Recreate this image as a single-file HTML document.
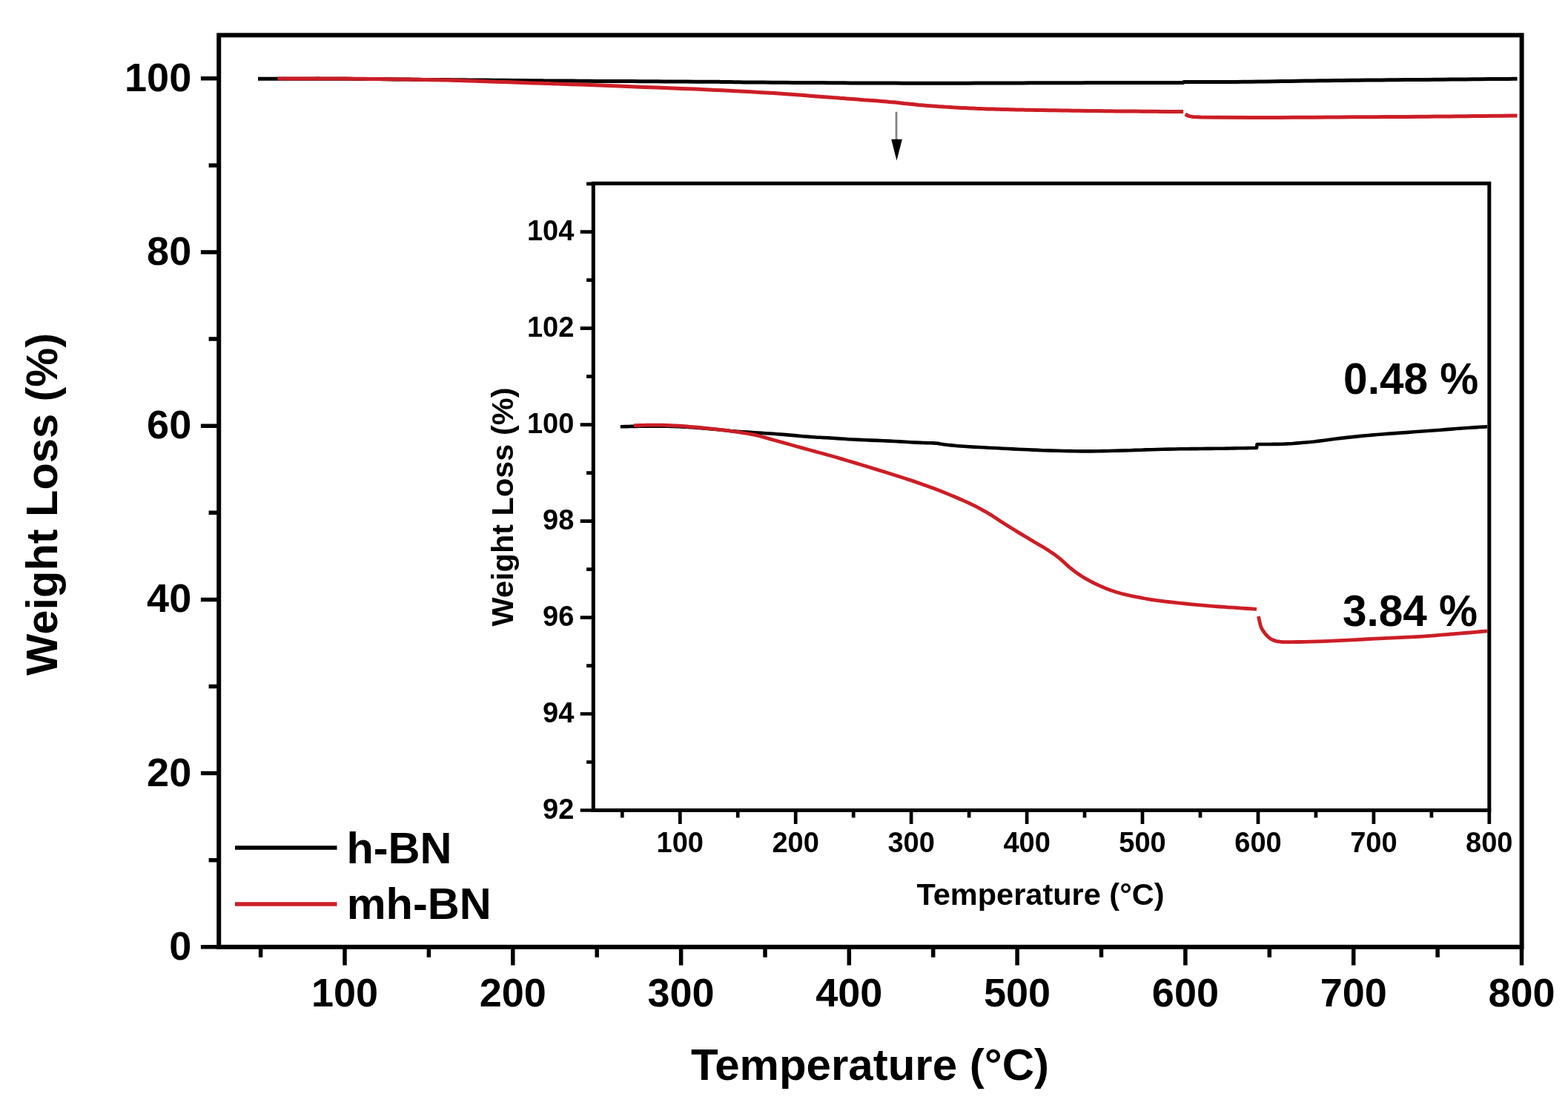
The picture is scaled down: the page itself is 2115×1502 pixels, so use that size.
<!DOCTYPE html>
<html><head><meta charset="utf-8"><title>TGA curves</title>
<style>html,body{margin:0;padding:0;background:#fff;}body{width:2115px;height:1502px;overflow:hidden;}svg{display:block;filter:blur(0.6px);}</style>
</head><body>
<svg width="2115" height="1502" viewBox="0 0 2115 1502">
<rect x="0" y="0" width="2115" height="1502" fill="#fff"/>
<defs><clipPath id="cm"><rect x="0" y="0" width="2046.5" height="1502"/></clipPath><clipPath id="ci"><rect x="0" y="0" width="2006.3" height="1502"/></clipPath></defs>
<g fill="none" stroke-linejoin="round" stroke-linecap="butt" clip-path="url(#cm)">
<path d="M348.0,106.3 L352.4,106.3 L356.8,106.2 L361.2,106.2 L365.6,106.2 L370.0,106.2 L374.5,106.2 L379.3,106.2 L384.1,106.2 L389.0,106.2 L393.8,106.2 L398.7,106.2 L403.5,106.2 L407.7,106.2 L411.8,106.2 L415.9,106.2 L420.0,106.2 L424.1,106.2 L428.3,106.1 L433.1,106.2 L438.0,106.2 L442.8,106.2 L447.7,106.2 L452.5,106.2 L457.3,106.2 L462.7,106.3 L468.0,106.3 L473.3,106.3 L478.7,106.4 L484.0,106.4 L489.3,106.5 L496.1,106.5 L502.9,106.6 L509.7,106.6 L516.5,106.7 L523.3,106.8 L530.1,106.9 L536.8,107.0 L543.6,107.0 L550.4,107.1 L557.2,107.2 L564.0,107.3 L570.8,107.4 L577.3,107.4 L583.9,107.5 L590.4,107.5 L597.0,107.6 L603.5,107.6 L610.1,107.7 L617.6,107.8 L625.1,107.8 L632.6,107.9 L640.1,107.9 L647.6,108.0 L655.1,108.1 L667.7,108.2 L680.3,108.3 L692.9,108.5 L705.6,108.6 L718.2,108.7 L730.8,108.8 L735.1,108.9 L739.5,108.9 L743.8,108.9 L748.2,108.9 L752.6,109.0 L756.9,109.0 L764.7,109.1 L772.4,109.1 L780.2,109.2 L788.0,109.3 L795.7,109.3 L803.5,109.4 L815.6,109.4 L827.7,109.5 L839.8,109.6 L852.0,109.6 L864.1,109.7 L876.2,109.8 L886.4,109.8 L896.6,109.9 L906.7,110.0 L916.9,110.0 L927.1,110.1 L937.3,110.2 L942.1,110.2 L947.0,110.2 L951.8,110.2 L956.7,110.2 L961.5,110.3 L966.4,110.3 L969.5,110.3 L972.7,110.4 L975.8,110.4 L979.0,110.5 L982.1,110.6 L985.3,110.6 L991.3,110.7 L997.4,110.8 L1003.4,110.9 L1009.5,110.9 L1015.6,111.0 L1021.6,111.1 L1031.3,111.1 L1041.0,111.2 L1050.7,111.3 L1060.4,111.3 L1070.1,111.4 L1079.8,111.4 L1089.5,111.5 L1099.2,111.6 L1108.9,111.6 L1118.6,111.7 L1128.3,111.8 L1138.0,111.8 L1147.7,111.9 L1157.4,111.9 L1167.1,112.0 L1176.7,112.0 L1186.4,112.1 L1196.1,112.1 L1207.3,112.1 L1218.4,112.2 L1229.6,112.2 L1240.7,112.2 L1251.9,112.2 L1263.0,112.2 L1273.7,112.2 L1284.4,112.2 L1295.0,112.2 L1305.7,112.2 L1316.4,112.1 L1327.0,112.1 L1337.5,112.1 L1347.9,112.0 L1358.3,112.0 L1368.7,111.9 L1379.1,111.9 L1389.6,111.8 L1401.0,111.8 L1412.3,111.8 L1423.7,111.7 L1435.1,111.7 L1446.5,111.7 L1457.9,111.7 L1467.6,111.6 L1477.3,111.6 L1487.0,111.6 L1496.7,111.6 L1506.4,111.6 L1516.1,111.6 L1523.4,111.6 L1530.6,111.6 L1537.9,111.5 L1545.2,111.5 L1552.4,111.5 L1559.7,111.5 L1565.8,111.5 L1571.8,111.5 L1577.9,111.5 L1584.0,111.5 L1590.0,111.4 L1596.1,111.4 L1596.9,110.5 L1603.5,110.5 L1610.0,110.5 L1616.6,110.5 L1623.1,110.5 L1629.7,110.5 L1636.2,110.5 L1646.5,110.5 L1656.8,110.4 L1667.0,110.4 L1677.3,110.3 L1687.6,110.2 L1697.9,110.0 L1708.3,109.9 L1718.7,109.8 L1729.1,109.6 L1739.6,109.4 L1750.0,109.2 L1760.4,109.1 L1770.6,108.9 L1780.8,108.8 L1791.0,108.7 L1801.1,108.5 L1811.3,108.4 L1821.5,108.3 L1831.9,108.2 L1842.3,108.1 L1852.8,108.0 L1863.2,107.9 L1873.6,107.8 L1884.0,107.7 L1894.5,107.6 L1904.9,107.5 L1915.3,107.4 L1925.7,107.4 L1936.1,107.3 L1946.6,107.2 L1956.7,107.1 L1966.9,107.0 L1977.1,106.9 L1987.3,106.8 L1997.5,106.7 L2007.6,106.6 L2014.4,106.5 L2021.2,106.5 L2028.0,106.4 L2034.8,106.4 L2041.6,106.3 L2048.4,106.3" stroke="#000" stroke-width="5"/>
<path d="M374.5,106.0 L379.3,106.0 L384.1,105.9 L389.0,105.9 L393.8,105.9 L398.7,105.9 L403.5,105.9 L407.7,105.9 L411.8,105.9 L415.9,105.9 L420.0,105.9 L424.1,105.9 L428.3,105.9 L433.1,105.9 L438.0,105.9 L442.8,105.9 L447.7,106.0 L452.5,106.0 L457.3,106.0 L462.7,106.1 L468.0,106.1 L473.3,106.2 L478.7,106.2 L484.0,106.3 L489.3,106.3 L496.1,106.4 L502.9,106.5 L509.7,106.6 L516.5,106.6 L523.3,106.7 L530.1,106.8 L536.8,106.9 L543.6,107.0 L550.4,107.1 L557.2,107.2 L564.0,107.3 L570.8,107.4 L577.3,107.6 L583.9,107.7 L590.4,107.8 L597.0,107.9 L603.5,108.1 L610.1,108.2 L617.6,108.4 L625.1,108.7 L632.6,108.9 L640.1,109.2 L647.6,109.5 L655.1,109.7 L667.7,110.2 L680.3,110.6 L692.9,111.0 L705.6,111.5 L718.2,111.9 L730.8,112.3 L735.1,112.5 L739.5,112.6 L743.8,112.8 L748.2,112.9 L752.6,113.1 L756.9,113.2 L769.8,113.7 L782.6,114.1 L795.5,114.6 L808.3,115.1 L821.2,115.6 L834.0,116.0 L851.2,116.7 L868.4,117.4 L885.6,118.0 L902.9,118.7 L920.1,119.4 L937.3,120.1 L946.5,120.5 L955.7,121.0 L964.9,121.4 L974.1,121.8 L983.3,122.3 L992.5,122.7 L1002.7,123.3 L1012.9,123.8 L1023.1,124.4 L1033.3,124.9 L1043.4,125.5 L1053.6,126.2 L1064.0,126.9 L1074.5,127.7 L1084.9,128.5 L1095.3,129.4 L1105.7,130.2 L1116.2,131.0 L1119.8,131.3 L1123.4,131.6 L1127.1,131.8 L1130.7,132.1 L1134.3,132.4 L1138.0,132.6 L1141.8,132.9 L1145.7,133.2 L1149.6,133.5 L1153.5,133.8 L1157.4,134.1 L1161.2,134.4 L1165.1,134.7 L1169.0,134.9 L1172.9,135.2 L1176.7,135.5 L1180.6,135.8 L1184.5,136.1 L1188.4,136.4 L1192.3,136.7 L1196.1,137.0 L1200.0,137.4 L1203.9,137.7 L1207.8,138.1 L1211.7,138.5 L1215.5,138.9 L1219.4,139.4 L1223.3,139.8 L1227.2,140.2 L1231.0,140.6 L1234.9,141.0 L1238.8,141.4 L1242.7,141.7 L1246.6,142.1 L1250.4,142.4 L1254.3,142.7 L1258.2,143.0 L1262.1,143.3 L1265.9,143.6 L1269.8,143.8 L1273.7,144.1 L1277.6,144.3 L1281.5,144.5 L1285.3,144.8 L1289.2,145.0 L1293.1,145.2 L1297.0,145.4 L1300.9,145.6 L1304.7,145.8 L1308.6,146.0 L1312.5,146.1 L1316.4,146.3 L1320.2,146.4 L1324.1,146.6 L1328.0,146.7 L1331.9,146.9 L1335.8,147.0 L1339.6,147.1 L1343.5,147.2 L1347.4,147.3 L1351.3,147.4 L1355.1,147.5 L1359.0,147.6 L1362.9,147.7 L1366.8,147.8 L1370.7,147.9 L1373.8,148.0 L1377.0,148.0 L1380.1,148.1 L1383.3,148.2 L1386.4,148.2 L1389.6,148.3 L1398.0,148.5 L1406.5,148.6 L1415.0,148.7 L1423.5,148.8 L1432.0,149.0 L1440.5,149.1 L1448.7,149.2 L1456.9,149.3 L1465.2,149.4 L1473.4,149.5 L1481.7,149.6 L1489.9,149.7 L1498.4,149.8 L1506.9,149.9 L1515.4,149.9 L1523.8,150.0 L1532.3,150.1 L1540.8,150.2 L1550.0,150.2 L1559.2,150.3 L1568.4,150.4 L1577.7,150.5 L1586.9,150.5 L1596.1,150.6" stroke="#cc1e26" stroke-width="5"/>
<path d="M1598.8,154.0 L1601.5,155.5 L1604.0,156.6 L1608.7,157.4 L1620.0,158.0 L1641.8,158.2 L1690.0,158.4 L1702.7,158.5 L1715.6,158.5 L1728.4,158.4 L1743.9,158.3 L1759.4,158.3 L1775.0,158.2 L1790.5,158.0 L1806.0,157.9 L1821.5,157.8 L1837.0,157.7 L1852.5,157.7 L1868.0,157.6 L1883.5,157.5 L1899.1,157.4 L1914.6,157.3 L1925.0,157.2 L1935.4,157.1 L1945.8,157.0 L1956.3,156.9 L1966.7,156.8 L1977.1,156.7 L1989.0,156.6 L2000.9,156.4 L2012.7,156.3 L2024.6,156.2 L2036.5,156.1 L2048.4,155.9" stroke="#cc1e26" stroke-width="5"/>
</g>
<rect x="295.2" y="47.4" width="1757.3999999999999" height="1229.3999999999999" fill="none" stroke="#000" stroke-width="6"/>
<path d="M270.9,1276.8 H295.2 M281.6,1159.7 H295.2 M270.9,1042.6 H295.2 M281.6,925.5 H295.2 M270.9,808.4 H295.2 M281.6,691.3 H295.2 M270.9,574.2 H295.2 M281.6,457.1 H295.2 M270.9,340.0 H295.2 M281.6,222.9 H295.2 M270.9,105.8 H295.2 M351.6,1276.8 V1290.8 M465.0,1276.8 V1301.4 M578.4,1276.8 V1290.8 M691.8,1276.8 V1301.4 M805.2,1276.8 V1290.8 M918.6,1276.8 V1301.4 M1032.0,1276.8 V1290.8 M1145.3,1276.8 V1301.4 M1258.7,1276.8 V1290.8 M1372.1,1276.8 V1301.4 M1485.5,1276.8 V1290.8 M1598.9,1276.8 V1301.4 M1712.3,1276.8 V1290.8 M1825.7,1276.8 V1301.4 M1939.1,1276.8 V1290.8 M2052.5,1276.8 V1301.4" stroke="#000" stroke-width="5.5" fill="none"/>
<g style="font-family:'Liberation Sans',Arial,Helvetica,sans-serif;font-weight:bold;font-size:54px" fill="#000" text-anchor="end">
<text x="258.2" y="1293.8">0</text>
<text x="258.2" y="1059.6">20</text>
<text x="258.2" y="825.4">40</text>
<text x="258.2" y="591.2">60</text>
<text x="258.2" y="357.0">80</text>
<text x="258.2" y="122.8">100</text>
</g>
<g style="font-family:'Liberation Sans',Arial,Helvetica,sans-serif;font-weight:bold;font-size:54px" fill="#000" text-anchor="middle">
<text x="465.0" y="1357.3">100</text>
<text x="691.8" y="1357.3">200</text>
<text x="918.6" y="1357.3">300</text>
<text x="1145.3" y="1357.3">400</text>
<text x="1372.1" y="1357.3">500</text>
<text x="1598.9" y="1357.3">600</text>
<text x="1825.7" y="1357.3">700</text>
<text x="2052.5" y="1357.3">800</text>
</g>
<text x="1173.5" y="1456.3" text-anchor="middle" style="font-family:'Liberation Sans',Arial,Helvetica,sans-serif;font-weight:bold;font-size:60px">Temperature (°C)</text>
<text transform="translate(77.3,679.8) rotate(-90)" text-anchor="middle" style="font-family:'Liberation Sans',Arial,Helvetica,sans-serif;font-weight:bold;font-size:59.5px">Weight Loss (%)</text>
<path d="M317,1143 H454.5" stroke="#000" stroke-width="5.5"/>
<path d="M317,1219 H454.5" stroke="#cc1e26" stroke-width="5.5"/>
<text x="467.4" y="1164" style="font-family:'Liberation Sans',Arial,Helvetica,sans-serif;font-weight:bold;font-size:59.5px">h-BN</text>
<text x="467.7" y="1239" style="font-family:'Liberation Sans',Arial,Helvetica,sans-serif;font-weight:bold;font-size:59.5px">mh-BN</text>
<path d="M1209,150.8 V190" stroke="#858585" stroke-width="2.8"/>
<path d="M1202.2,187.8 L1216.9,187.8 L1209.5,216.5 Z" fill="#000"/>
<rect x="800.3" y="247.3" width="1208.5" height="845.2" fill="#fff" stroke="none"/>
<g fill="none" stroke-linejoin="round" clip-path="url(#ci)">
<path d="M836.8,575.3 L839.8,575.2 L842.9,575.1 L845.9,575.1 L848.9,575.0 L852.0,574.9 L855.0,574.9 L858.3,574.9 L861.7,574.8 L865.0,574.8 L868.3,574.8 L871.7,574.7 L875.0,574.7 L877.8,574.7 L880.7,574.7 L883.5,574.6 L886.3,574.6 L889.2,574.6 L892.0,574.6 L895.3,574.6 L898.7,574.7 L902.0,574.8 L905.3,574.9 L908.7,575.0 L912.0,575.1 L915.7,575.2 L919.3,575.4 L923.0,575.6 L926.7,575.8 L930.3,576.1 L934.0,576.3 L938.7,576.6 L943.3,577.0 L948.0,577.4 L952.7,577.8 L957.3,578.2 L962.0,578.6 L966.7,579.0 L971.3,579.5 L976.0,580.0 L980.7,580.5 L985.3,581.0 L990.0,581.4 L994.5,581.7 L999.0,582.1 L1003.5,582.3 L1008.0,582.6 L1012.5,582.9 L1017.0,583.2 L1022.2,583.5 L1027.3,583.9 L1032.5,584.2 L1037.7,584.5 L1042.8,584.8 L1048.0,585.2 L1056.7,585.9 L1065.3,586.6 L1074.0,587.4 L1082.7,588.2 L1091.3,588.9 L1100.0,589.5 L1103.0,589.7 L1106.0,589.8 L1109.0,590.0 L1112.0,590.1 L1115.0,590.2 L1118.0,590.4 L1123.3,590.7 L1128.7,591.1 L1134.0,591.5 L1139.3,591.8 L1144.7,592.2 L1150.0,592.5 L1158.3,592.9 L1166.7,593.3 L1175.0,593.6 L1183.3,593.9 L1191.7,594.2 L1200.0,594.6 L1207.0,595.0 L1214.0,595.4 L1221.0,595.8 L1228.0,596.2 L1235.0,596.6 L1242.0,596.9 L1245.3,597.0 L1248.7,597.1 L1252.0,597.2 L1255.3,597.3 L1258.7,597.4 L1262.0,597.6 L1264.2,597.8 L1266.3,598.1 L1268.5,598.5 L1270.7,598.8 L1272.8,599.2 L1275.0,599.5 L1279.2,600.0 L1283.3,600.4 L1287.5,600.8 L1291.7,601.2 L1295.8,601.5 L1300.0,601.8 L1306.7,602.2 L1313.3,602.6 L1320.0,603.0 L1326.7,603.3 L1333.3,603.7 L1340.0,604.0 L1346.7,604.3 L1353.3,604.7 L1360.0,605.0 L1366.7,605.4 L1373.3,605.7 L1380.0,606.0 L1386.7,606.3 L1393.3,606.6 L1400.0,606.9 L1406.7,607.2 L1413.3,607.4 L1420.0,607.6 L1427.7,607.8 L1435.3,608.0 L1443.0,608.1 L1450.7,608.3 L1458.3,608.4 L1466.0,608.4 L1473.3,608.4 L1480.7,608.3 L1488.0,608.1 L1495.3,608.0 L1502.7,607.8 L1510.0,607.6 L1517.2,607.4 L1524.3,607.2 L1531.5,606.9 L1538.7,606.7 L1545.8,606.4 L1553.0,606.2 L1560.8,606.0 L1568.7,605.8 L1576.5,605.6 L1584.3,605.5 L1592.2,605.3 L1600.0,605.2 L1606.7,605.1 L1613.3,605.1 L1620.0,605.0 L1626.7,604.9 L1633.3,604.9 L1640.0,604.8 L1645.0,604.7 L1650.0,604.7 L1655.0,604.6 L1660.0,604.5 L1665.0,604.4 L1670.0,604.3 L1674.2,604.2 L1678.3,604.2 L1682.5,604.1 L1686.7,604.0 L1690.8,604.0 L1695.0,603.9 L1695.6,599.0 L1700.1,599.0 L1704.6,599.0 L1709.1,599.0 L1713.6,599.0 L1718.1,598.9 L1722.6,598.9 L1729.7,598.8 L1736.7,598.4 L1743.8,598.0 L1750.9,597.4 L1757.9,596.8 L1765.0,596.2 L1772.2,595.5 L1779.3,594.6 L1786.5,593.7 L1793.7,592.7 L1800.8,591.8 L1808.0,590.9 L1815.0,590.1 L1822.0,589.4 L1829.0,588.6 L1836.0,587.9 L1843.0,587.2 L1850.0,586.6 L1857.2,586.0 L1864.3,585.5 L1871.5,584.9 L1878.7,584.4 L1885.8,583.9 L1893.0,583.4 L1900.2,582.9 L1907.3,582.3 L1914.5,581.8 L1921.7,581.3 L1928.8,580.7 L1936.0,580.2 L1943.0,579.7 L1950.0,579.1 L1957.0,578.6 L1964.0,578.0 L1971.0,577.5 L1978.0,577.0 L1982.7,576.7 L1987.3,576.4 L1992.0,576.1 L1996.7,575.8 L2001.3,575.6 L2006.0,575.3" stroke="#000" stroke-width="4.6"/>
<path d="M855.0,573.7 L858.3,573.6 L861.7,573.5 L865.0,573.4 L868.3,573.3 L871.7,573.2 L875.0,573.2 L877.8,573.2 L880.7,573.2 L883.5,573.2 L886.3,573.2 L889.2,573.2 L892.0,573.2 L895.3,573.2 L898.7,573.3 L902.0,573.5 L905.3,573.6 L908.7,573.8 L912.0,574.0 L915.7,574.2 L919.3,574.4 L923.0,574.7 L926.7,575.0 L930.3,575.3 L934.0,575.6 L938.7,576.0 L943.3,576.4 L948.0,576.9 L952.7,577.3 L957.3,577.8 L962.0,578.3 L966.7,578.8 L971.3,579.4 L976.0,579.9 L980.7,580.5 L985.3,581.2 L990.0,581.8 L994.5,582.4 L999.0,583.1 L1003.5,583.8 L1008.0,584.5 L1012.5,585.3 L1017.0,586.2 L1022.2,587.3 L1027.3,588.7 L1032.5,590.1 L1037.7,591.6 L1042.8,593.1 L1048.0,594.5 L1056.7,596.9 L1065.3,599.3 L1074.0,601.7 L1082.7,604.1 L1091.3,606.5 L1100.0,608.9 L1103.0,609.7 L1106.0,610.5 L1109.0,611.3 L1112.0,612.1 L1115.0,613.0 L1118.0,613.8 L1126.8,616.3 L1135.7,618.9 L1144.5,621.5 L1153.3,624.1 L1162.2,626.8 L1171.0,629.5 L1182.8,633.1 L1194.7,636.8 L1206.5,640.5 L1218.3,644.2 L1230.2,648.1 L1242.0,652.2 L1248.3,654.4 L1254.7,656.7 L1261.0,659.1 L1267.3,661.5 L1273.7,664.0 L1280.0,666.6 L1287.0,669.5 L1294.0,672.5 L1301.0,675.6 L1308.0,678.8 L1315.0,682.2 L1322.0,685.8 L1329.2,689.8 L1336.3,694.1 L1343.5,698.7 L1350.7,703.4 L1357.8,708.0 L1365.0,712.5 L1367.5,714.0 L1370.0,715.6 L1372.5,717.1 L1375.0,718.6 L1377.5,720.1 L1380.0,721.6 L1382.7,723.2 L1385.3,724.8 L1388.0,726.4 L1390.7,728.0 L1393.3,729.6 L1396.0,731.2 L1398.7,732.8 L1401.3,734.3 L1404.0,735.9 L1406.7,737.4 L1409.3,739.0 L1412.0,740.7 L1414.7,742.4 L1417.3,744.2 L1420.0,746.0 L1422.7,747.9 L1425.3,749.9 L1428.0,751.9 L1430.7,754.1 L1433.3,756.5 L1436.0,758.9 L1438.7,761.4 L1441.3,763.8 L1444.0,766.0 L1446.7,768.1 L1449.3,770.1 L1452.0,772.1 L1454.7,774.0 L1457.3,775.8 L1460.0,777.5 L1462.7,779.1 L1465.3,780.7 L1468.0,782.2 L1470.7,783.6 L1473.3,785.0 L1476.0,786.3 L1478.7,787.6 L1481.3,788.9 L1484.0,790.1 L1486.7,791.3 L1489.3,792.4 L1492.0,793.5 L1494.7,794.5 L1497.3,795.5 L1500.0,796.5 L1502.7,797.3 L1505.3,798.2 L1508.0,799.0 L1510.7,799.8 L1513.3,800.5 L1516.0,801.1 L1518.7,801.8 L1521.3,802.4 L1524.0,803.0 L1526.7,803.6 L1529.3,804.1 L1532.0,804.7 L1534.7,805.2 L1537.3,805.7 L1540.0,806.2 L1542.2,806.6 L1544.3,807.0 L1546.5,807.4 L1548.7,807.8 L1550.8,808.2 L1553.0,808.5 L1558.8,809.3 L1564.7,810.1 L1570.5,810.8 L1576.3,811.5 L1582.2,812.2 L1588.0,812.8 L1593.7,813.4 L1599.3,814.0 L1605.0,814.6 L1610.7,815.2 L1616.3,815.7 L1622.0,816.2 L1627.8,816.7 L1633.7,817.1 L1639.5,817.6 L1645.3,818.0 L1651.2,818.4 L1657.0,818.8 L1663.3,819.2 L1669.7,819.7 L1676.0,820.1 L1682.3,820.5 L1688.7,820.9 L1695.0,821.3" stroke="#cc1e26" stroke-width="4.8"/>
<path d="M1697.5,831.0 L1697.8,832.3 L1698.0,833.5 L1698.2,834.7 L1698.5,835.8 L1698.8,836.9 L1699.0,838.0 L1699.3,839.4 L1699.7,840.8 L1700.0,842.2 L1700.3,843.5 L1700.7,844.6 L1701.0,845.5 L1701.6,846.8 L1702.2,847.9 L1702.8,848.9 L1703.3,849.8 L1703.9,850.7 L1704.5,851.5 L1705.1,852.3 L1705.7,853.2 L1706.2,853.9 L1706.8,854.7 L1707.4,855.4 L1708.0,856.0 L1709.3,857.4 L1710.7,858.7 L1712.0,859.9 L1713.3,860.9 L1714.7,861.8 L1716.0,862.5 L1717.5,863.1 L1719.0,863.6 L1720.5,864.1 L1722.0,864.5 L1723.5,864.8 L1725.0,865.0 L1726.3,865.2 L1727.7,865.3 L1729.0,865.5 L1730.3,865.6 L1731.7,865.7 L1733.0,865.7 L1741.8,865.7 L1750.7,865.5 L1759.5,865.3 L1768.3,865.1 L1777.2,864.9 L1786.0,864.6 L1796.7,864.2 L1807.3,863.7 L1818.0,863.2 L1828.7,862.6 L1839.3,862.0 L1850.0,861.4 L1860.7,860.9 L1871.3,860.4 L1882.0,859.9 L1892.7,859.4 L1903.3,858.9 L1914.0,858.3 L1921.2,857.8 L1928.3,857.3 L1935.5,856.8 L1942.7,856.2 L1949.8,855.6 L1957.0,855.0 L1965.2,854.3 L1973.3,853.7 L1981.5,853.0 L1989.7,852.3 L1997.8,851.5 L2006.0,850.8" stroke="#cc1e26" stroke-width="4.8"/>
</g>
<rect x="800.3" y="247.3" width="1208.5" height="845.2" fill="none" stroke="#000" stroke-width="5"/>
<path d="M782.7,1092.5 H802.3 M791.1,1027.5 H802.3 M782.7,962.5 H802.3 M791.1,897.6 H802.3 M782.7,832.6 H802.3 M791.1,767.6 H802.3 M782.7,702.6 H802.3 M791.1,637.6 H802.3 M782.7,572.7 H802.3 M791.1,507.7 H802.3 M782.7,442.7 H802.3 M791.1,377.7 H802.3 M782.7,312.7 H802.3 M791.1,247.8 H802.3 M839.3,1090.5 V1102.5 M917.3,1090.5 V1111.0 M995.2,1090.5 V1102.5 M1073.2,1090.5 V1111.0 M1151.2,1090.5 V1102.5 M1229.1,1090.5 V1111.0 M1307.1,1090.5 V1102.5 M1385.1,1090.5 V1111.0 M1463.0,1090.5 V1102.5 M1541.0,1090.5 V1111.0 M1619.0,1090.5 V1102.5 M1697.0,1090.5 V1111.0 M1774.9,1090.5 V1102.5 M1852.9,1090.5 V1111.0 M1930.9,1090.5 V1102.5 M2008.8,1090.5 V1111.0" stroke="#000" stroke-width="4.7" fill="none"/>
<g style="font-family:'Liberation Sans',Arial,Helvetica,sans-serif;font-weight:bold;font-size:38px" fill="#000" text-anchor="end">
<text x="774.4" y="1104.0">92</text>
<text x="774.4" y="974.0">94</text>
<text x="774.4" y="844.1">96</text>
<text x="774.4" y="714.1">98</text>
<text x="774.4" y="584.2">100</text>
<text x="774.4" y="454.2">102</text>
<text x="774.4" y="324.2">104</text>
</g>
<g style="font-family:'Liberation Sans',Arial,Helvetica,sans-serif;font-weight:bold;font-size:38px" fill="#000" text-anchor="middle">
<text x="917.3" y="1149">100</text>
<text x="1073.2" y="1149">200</text>
<text x="1229.1" y="1149">300</text>
<text x="1385.1" y="1149">400</text>
<text x="1541.0" y="1149">500</text>
<text x="1697.0" y="1149">600</text>
<text x="1852.9" y="1149">700</text>
<text x="2008.8" y="1149">800</text>
</g>
<text x="1403.5" y="1219.9" text-anchor="middle" style="font-family:'Liberation Sans',Arial,Helvetica,sans-serif;font-weight:bold;font-size:41.5px">Temperature (°C)</text>
<text transform="translate(691.6,683.5) rotate(-90)" text-anchor="middle" style="font-family:'Liberation Sans',Arial,Helvetica,sans-serif;font-weight:bold;font-size:41.5px">Weight Loss (%)</text>
<text x="1812.1" y="530.5" style="font-family:'Liberation Sans',Arial,Helvetica,sans-serif;font-weight:bold;font-size:58.5px">0.48 %</text>
<text x="1810.9" y="844.2" style="font-family:'Liberation Sans',Arial,Helvetica,sans-serif;font-weight:bold;font-size:58.5px">3.84 %</text>
</svg>
</body></html>
